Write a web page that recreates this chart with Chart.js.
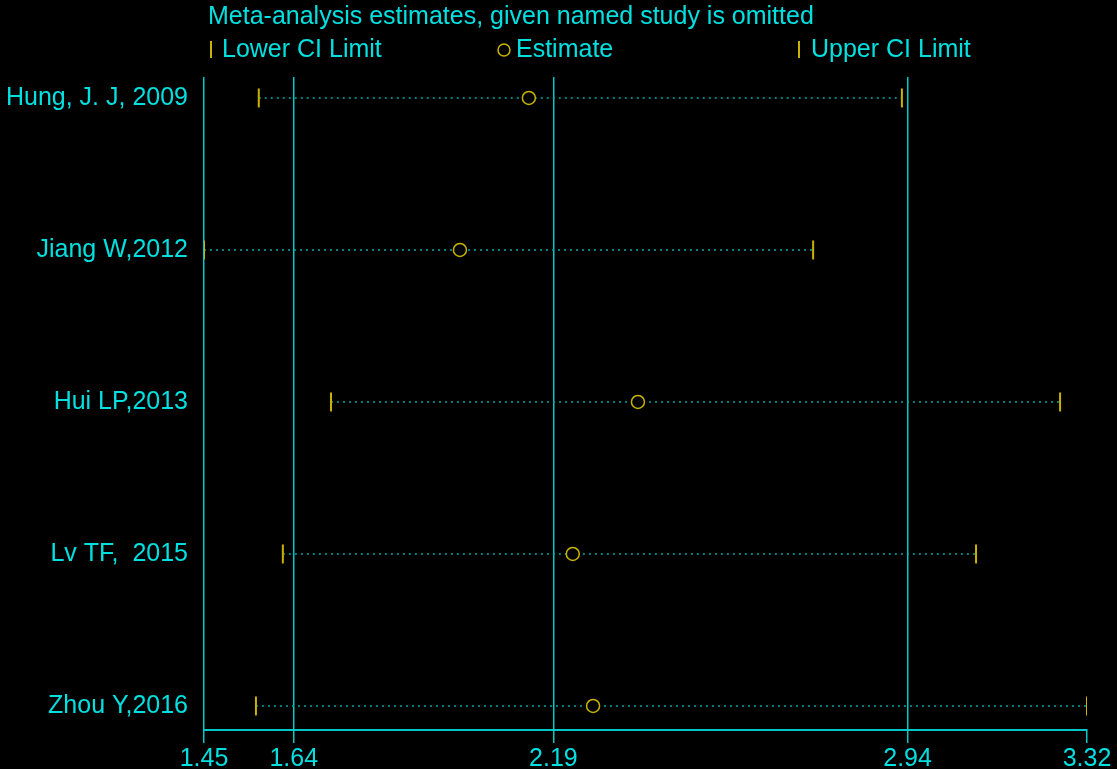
<!DOCTYPE html>
<html>
<head>
<meta charset="utf-8">
<script src="https://cdn.jsdelivr.net/npm/chart.js@4"></script>
<style>
    html, body { margin: 0; padding: 0; background: #000; }
    #wrap { width: 1117px; height: 769px; }
</style>
</head>
<body>
<div id="wrap"><canvas id="chart" width="1117" height="769"></canvas></div>
<script>
// Data
const studies = ['Hung, J. J, 2009', 'Jiang W,2012', 'Hui LP,2013', 'Lv TF,  2015', 'Zhou Y,2016'];
const lowerCI = [1.566, 1.45, 1.719, 1.617, 1.560];
const estimate = [2.138, 1.992, 2.369, 2.231, 2.274];
const upperCI = [2.928, 2.740, 3.263, 3.085, 3.32];
const xTicks = [1.45, 1.64, 2.19, 2.94, 3.32];

// Colours
const CYAN = '#00e0e0';
const GRID = '#00c8c8';
const DOTS = '#00a8a8';
const YELLOW = '#c8b400';
const FONT = 'Arial, "Liberation Sans", sans-serif';
const FSIZE = 25;

// Title + legend drawn at fixed spots (the original has uneven legend spacing)
const headerPlugin = {
    id: 'header',
    afterDraw(chart) {
        const ctx = chart.ctx;
        ctx.save();
        ctx.font = FSIZE + 'px ' + FONT;
        ctx.fillStyle = CYAN;
        ctx.textBaseline = 'middle';
        ctx.fillText('Meta-analysis estimates, given named study is omitted', 208, 17);
        ctx.fillText('Lower CI Limit', 222, 50);
        ctx.fillText('Estimate', 516, 50);
        ctx.fillText('Upper CI Limit', 811, 50);
        ctx.strokeStyle = YELLOW;
        ctx.lineWidth = 2;
        ctx.beginPath();
        ctx.moveTo(211, 41); ctx.lineTo(211, 58);
        ctx.moveTo(799, 41); ctx.lineTo(799, 58);
        ctx.stroke();
        ctx.lineWidth = 1.5;
        ctx.beginPath();
        ctx.arc(504, 50, 6, 0, Math.PI * 2);
        ctx.stroke();
        ctx.restore();
    }
};

// One dotted line per study from lower to upper limit (drawn under the markers)
const ciLines = studies.map((name, i) => ({
    type: 'line',
    label: name,
    order: 1,
    data: [{ x: lowerCI[i], y: i + 1 }, { x: upperCI[i], y: i + 1 }],
    borderColor: DOTS,
    borderWidth: 1.5,
    borderDash: [2, 4],
    pointRadius: 0,
    fill: false
}));

const chart = new Chart(document.getElementById('chart'), {
    type: 'scatter',
    data: {
        datasets: [
            ...ciLines,
            {
                label: 'Lower CI Limit',
                order: 0,
                data: lowerCI.map((v, i) => ({ x: v, y: i + 1 })),
                pointStyle: 'line',
                rotation: 90,
                radius: 9.5,
                borderColor: YELLOW,
                borderWidth: 2
            },
            {
                label: 'Estimate',
                order: 0,
                data: estimate.map((v, i) => ({ x: v, y: i + 1 })),
                pointStyle: 'circle',
                radius: 6.5,
                backgroundColor: '#000',
                borderColor: YELLOW,
                borderWidth: 1.5
            },
            {
                label: 'Upper CI Limit',
                order: 0,
                data: upperCI.map((v, i) => ({ x: v, y: i + 1 })),
                pointStyle: 'line',
                rotation: 90,
                radius: 9.5,
                borderColor: YELLOW,
                borderWidth: 2
            }
        ]
    },
    options: {
        responsive: false,
        animation: false,
        layout: {
            autoPadding: false,
            padding: { top: 77, right: 30, left: 0, bottom: 0 }
        },
        plugins: {
            legend: { display: false },
            title: { display: false },
            tooltip: { enabled: false }
        },
        scales: {
            x: {
                type: 'linear',
                min: 1.45,
                max: 3.32,
                afterBuildTicks: (scale) => { scale.ticks = xTicks.map(v => ({ value: v })); },
                afterFit: (scale) => { scale.height = 39; },
                ticks: {
                    color: CYAN,
                    font: { family: FONT, size: FSIZE },
                    padding: 1,
                    maxRotation: 0,
                    autoSkip: false,
                    callback: (v) => Number(v).toFixed(2)
                },
                grid: {
                    color: (c) => (c.tick && c.tick.value === 3.32) ? 'rgba(0,0,0,0)' : GRID,
                    tickColor: GRID,
                    lineWidth: 1.5,
                    tickLength: 13
                },
                border: { display: true, color: GRID, width: 2 }
            },
            y: {
                type: 'linear',
                reverse: true,
                min: 0.862,
                max: 5.158,
                afterBuildTicks: (scale) => { scale.ticks = studies.map((s, i) => ({ value: i + 1 })); },
                afterFit: (scale) => { scale.width = 204; },
                ticks: {
                    color: CYAN,
                    font: { family: FONT, size: FSIZE },
                    padding: 16,
                    autoSkip: false,
                    callback: (v) => studies[Math.round(v) - 1]
                },
                grid: { display: false, drawTicks: false },
                border: { display: false }
            }
        }
    },
    plugins: [headerPlugin]
});
</script>
</body>
</html>
